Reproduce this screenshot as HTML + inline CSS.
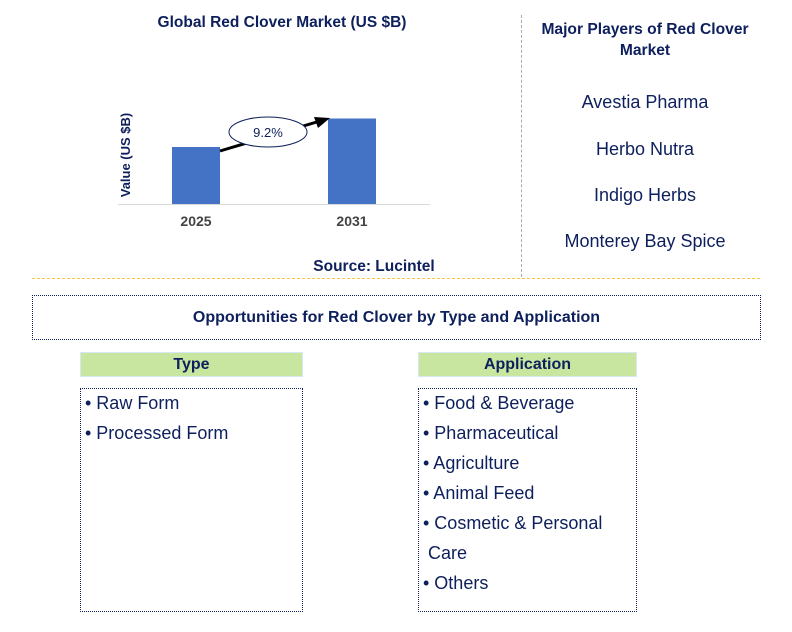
<!DOCTYPE html>
<html><head><meta charset="utf-8"><style>
body{margin:0;width:792px;height:632px;background:#fff;font-family:"Liberation Sans",sans-serif;position:relative;overflow:hidden}
.a{position:absolute}
.nv{color:#0d1f5c}
.box{position:absolute;border:1.5px dotted #0d1f5c;box-sizing:border-box}
.hd{position:absolute;background:#c8e6a0;border:1.5px solid #d6e8f4;box-sizing:border-box;text-align:center;font-weight:bold;font-size:16px;color:#0d1f5c;line-height:24px}
.li{font-size:18px;color:#0d1f5c;line-height:30px;padding-left:4px}
.pl{position:absolute;width:250px;left:520px;text-align:center;font-size:18px;color:#0d1f5c}
</style></head><body>
<div class="a nv" style="left:100px;top:14px;width:364px;text-align:center;font-weight:bold;font-size:15.5px">Global Red Clover Market (US $B)</div>
<svg class="a" style="left:0;top:0" width="520" height="280">
<text transform="translate(130,155) rotate(-90)" text-anchor="middle" font-size="13" font-weight="bold" fill="#0d1f5c" font-family="Liberation Sans">Value (US $B)</text>
<line x1="118" y1="204.5" x2="430" y2="204.5" stroke="#d9d9d9" stroke-width="1"/>
<g id="bars"></g>
<line x1="220" y1="151" x2="320" y2="121" stroke="#000" stroke-width="3"/>
<polygon points="330,118 314,117 318,128" fill="#000"/>
<ellipse cx="268" cy="132" rx="39" ry="15" fill="#fff" stroke="#0d1f5c" stroke-width="1"/>
<text x="268" y="137" text-anchor="middle" font-size="13" fill="#0d1f5c" font-family="Liberation Sans">9.2%</text>
<text x="374" y="271" text-anchor="middle" font-size="15.5" font-weight="bold" fill="#0d1f5c" font-family="Liberation Sans">Source: Lucintel</text>
</svg>
<div class="a" style="left:32px;top:278px;width:728px;border-top:1.5px dashed #f5c242"></div>
<div class="a" style="left:521px;top:15px;height:262px;border-left:1px dashed #aaa"></div>
<div class="pl" style="top:19px;font-weight:bold;font-size:15.6px;line-height:21px">Major Players of Red Clover<br>Market</div>
<div class="pl" style="top:92px">Avestia Pharma</div>
<div class="pl" style="top:139px">Herbo Nutra</div>
<div class="pl" style="top:185px">Indigo Herbs</div>
<div class="pl" style="top:231px">Monterey Bay Spice</div>
<div class="box" style="left:32px;top:295px;width:729px;height:45px;text-align:center;font-weight:bold;font-size:16px;color:#0d1f5c;line-height:44px">Opportunities for Red Clover by Type and Application</div>
<div class="hd" style="left:80px;top:352px;width:223px;height:25px">Type</div>
<div class="box" style="left:80px;top:388px;width:223px;height:224px;padding-top:0">
<div style="margin-top:-1px"><div class="li">• Raw Form</div><div class="li">• Processed Form</div></div></div>
<div class="hd" style="left:418px;top:352px;width:219px;height:25px">Application</div>
<div class="box" style="left:418px;top:388px;width:219px;height:224px">
<div style="margin-top:-1px"><div class="li">• Food &amp; Beverage</div><div class="li">• Pharmaceutical</div><div class="li">• Agriculture</div><div class="li">• Animal Feed</div><div class="li">• Cosmetic &amp; Personal<br>&nbsp;Care</div><div class="li">• Others</div></div></div>
<script>
const categories=["2025","2031"];
const values=[1.0,1.5];
const baseY=204, scale=57, xs=[172,328], bw=48;
const g=document.getElementById('bars');
const ns="http://www.w3.org/2000/svg";
categories.forEach((c,i)=>{
 const h=values[i]*scale;
 const r=document.createElementNS(ns,'rect');
 r.setAttribute('x',xs[i]);r.setAttribute('y',baseY-h);r.setAttribute('width',bw);r.setAttribute('height',h);r.setAttribute('fill','#4472c4');
 
 
 g.appendChild(r);
 const t=document.createElementNS(ns,'text');
 t.setAttribute('x',xs[i]+bw/2);t.setAttribute('y',226);t.setAttribute('text-anchor','middle');t.setAttribute('font-size','14');t.setAttribute('font-weight','bold');t.setAttribute('fill','#444');t.setAttribute('font-family','Liberation Sans');
 t.textContent=c;
 
 
 g.appendChild(t);
});
</script>
</body></html>
